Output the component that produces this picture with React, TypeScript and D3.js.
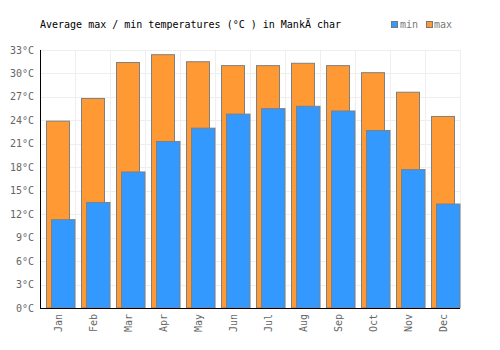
import React from "react"
import * as d3 from "d3"

const months = ["Jan", "Feb", "Mar", "Apr", "May", "Jun", "Jul", "Aug", "Sep", "Oct", "Nov", "Dec"]
const maxTemps = [23.9, 26.8, 31.4, 32.4, 31.5, 31.0, 31.0, 31.3, 31.0, 30.1, 27.6, 24.5]
const minTemps = [11.3, 13.5, 17.4, 21.3, 23.0, 24.8, 25.5, 25.8, 25.2, 22.7, 17.7, 13.3]
const yTicks = [0, 3, 6, 9, 12, 15, 18, 21, 24, 27, 30, 33]

const W = 500, H = 350
const left = 40, right = 460, top = 50, bottom = 308
const font = "'DejaVu Sans Mono', monospace"

export default function App() {
	const x = d3.scaleBand<string>().domain(months).range([left, right])
	const y = d3.scaleLinear().domain([0, 33]).range([bottom, top])
	const bw = x.bandwidth()

	return (
		<svg width={W} height={H} style={{ position: "absolute", left: 0, top: 0, background: "#fff" }}>
			<text x={40} y={28} fontFamily={font} fontSize={10} fill="#000">
				Average max / min temperatures (°C ) in MankÄ char
			</text>

			{/* legend */}
			<rect x={391.5} y={21.5} width={6} height={6} fill="#3399ff" stroke="#777" />
			<text x={400} y={28} fontFamily={font} fontSize={10} fill="#777">min</text>
			<rect x={426.5} y={21.5} width={6} height={6} fill="#ff9933" stroke="#777" />
			<text x={434} y={28} fontFamily={font} fontSize={10} fill="#777">max</text>

			{/* grid */}
			{yTicks.map(t => (
				<line key={"h" + t} x1={left} x2={right} y1={Math.round(y(t)) + 0.5} y2={Math.round(y(t)) + 0.5} stroke="#eee" />
			))}
			{months.map(m => (
				<line key={"v" + m} x1={Math.round(x(m)! + bw) + 0.5} x2={Math.round(x(m)! + bw) + 0.5} y1={top} y2={bottom} stroke="#eee" />
			))}

			{/* bars */}
			{months.map((m, i) => (
				<rect key={"max" + m} x={x(m)! + 6.5} width={23} y={y(maxTemps[i])} height={bottom - y(maxTemps[i])}
					fill="#ff9933" stroke="#808080" strokeWidth={1} />
			))}
			{months.map((m, i) => (
				<rect key={"min" + m} x={x(m)! + 11.5} width={23.5} y={y(minTemps[i])} height={bottom - y(minTemps[i])}
					fill="#3399ff" stroke="#808080" strokeWidth={1} />
			))}

			{/* axes */}
			<line x1={left + 0.5} x2={left + 0.5} y1={top} y2={bottom + 1} stroke="#000" />
			<line x1={left} x2={right} y1={bottom + 0.5} y2={bottom + 0.5} stroke="#000" />

			{yTicks.map(t => (
				<text key={"yt" + t} x={34} y={y(t) + 3.5} textAnchor="end" fontFamily={font} fontSize={10} fill="#666">
					{t}°C
				</text>
			))}
			{months.map(m => (
				<text key={"xt" + m} transform={`translate(${x(m)! + bw / 2 + 4},314) rotate(-90)`} textAnchor="end"
					fontFamily={font} fontSize={10} fill="#666">
					{m}
				</text>
			))}
		</svg>
	)
}
